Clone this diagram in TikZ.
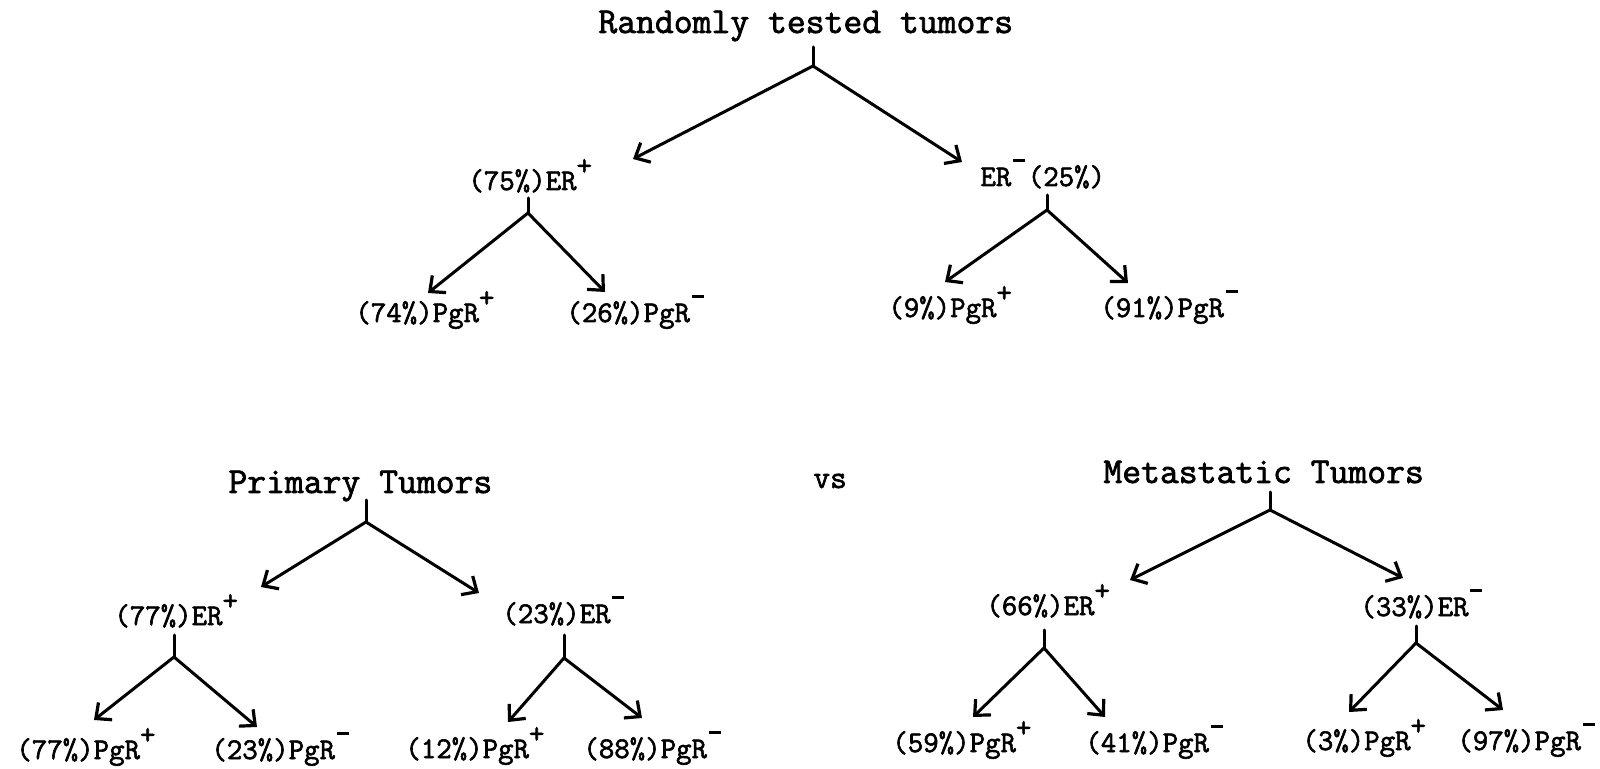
\documentclass[tikz,border=0pt]{standalone}
\usepackage{fontspec}
\setmonofont{Latin Modern Mono}[FakeBold=2]
\usetikzlibrary{arrows.meta}
\newcommand{\Rplus}{\makebox[0.55em][l]{\raisebox{0.5em}{+}}}
\newcommand{\Rminus}{\makebox[0.55em][l]{\hspace{0.06em}\rule[0.8em]{0.4em}{0.1em}}}
\tikzset{
  lab/.style={anchor=base west, inner sep=0pt, font=\ttfamily\fontsize{15}{16}\selectfont},
  ttl/.style={anchor=base west, inner sep=0pt, font=\ttfamily\fontsize{18.3}{20}\selectfont},
  vsl/.style={anchor=base west, inner sep=0pt, font=\ttfamily\fontsize{16.2}{18}\selectfont},
  ln/.style={line width=1.5pt, line cap=round, line join=round},
  arr/.style={ln, -{Straight Barb[length=6pt,width=11pt,line width=1.6pt]}}
}
\begin{document}
\begin{tikzpicture}[x=0.5pt,y=-0.5pt]
\useasboundingbox (0,0) rectangle (1600,769);

% ---------- top tree ----------
\node[ttl] (t0) at (598,33) {Randomly tested tumors};
\coordinate (t0s) at (813,47); \coordinate (t0b) at (813,66);
\coordinate (t0l) at (633,159); \coordinate (t0r) at (962,162);
\draw[ln] (t0s) -- (t0b);
\draw[arr] (t0b) -- (t0l);
\draw[arr] (t0b) -- (t0r);

\node[lab] (tA) at (468,190) {(75\%)ER\Rplus};
\coordinate (tAs) at (528,198); \coordinate (tAb) at (528,213);
\coordinate (tAl) at (428,293); \coordinate (tAr) at (605,292);
\draw[ln] (tAs) -- (tAb);
\draw[arr] (tAb) -- (tAl);
\draw[arr] (tAb) -- (tAr);
\node[lab] (tA1) at (355,322) {(74\%)PgR\Rplus};
\node[lab] (tA2) at (566,322) {(26\%)PgR\Rminus};

\node[lab] (tB) at (980,186) {ER\Rminus(25\%)};
\coordinate (tBs) at (1047,195); \coordinate (tBb) at (1047,210);
\coordinate (tBl) at (945,282); \coordinate (tBr) at (1128,283);
\draw[ln] (tBs) -- (tBb);
\draw[arr] (tBb) -- (tBl);
\draw[arr] (tBb) -- (tBr);
\node[lab] (tB1) at (888,317) {(9\%)PgR\Rplus};
\node[lab] (tB2) at (1100,317) {(91\%)PgR\Rminus};

% ---------- primary tree ----------
\node[ttl] (p0) at (228,493) {Primary Tumors};
\coordinate (p0s) at (366,500); \coordinate (p0b) at (366,522);
\coordinate (p0l) at (261,587); \coordinate (p0r) at (479,593);
\draw[ln] (p0s) -- (p0b);
\draw[arr] (p0b) -- (p0l);
\draw[arr] (p0b) -- (p0r);

\node[lab] (pA) at (114,625) {(77\%)ER\Rplus};
\coordinate (pAs) at (174,635); \coordinate (pAb) at (174,657);
\coordinate (pAl) at (94,720); \coordinate (pAr) at (257,727);
\draw[ln] (pAs) -- (pAb);
\draw[arr] (pAb) -- (pAl);
\draw[arr] (pAb) -- (pAr);
\node[lab] (pA1) at (16,759) {(77\%)PgR\Rplus};
\node[lab] (pA2) at (211,759) {(23\%)PgR\Rminus};

\node[lab] (pB) at (502,623) {(23\%)ER\Rminus};
\coordinate (pBs) at (564,635); \coordinate (pBb) at (564,658);
\coordinate (pBl) at (508,722); \coordinate (pBr) at (642,718);
\draw[ln] (pBs) -- (pBb);
\draw[arr] (pBb) -- (pBl);
\draw[arr] (pBb) -- (pBr);
\node[lab] (pB1) at (405,758) {(12\%)PgR\Rplus};
\node[lab] (pB2) at (583,758) {(88\%)PgR\Rminus};

% ---------- vs ----------
\node[vsl] (vs) at (813,488) {vs};

% ---------- metastatic tree ----------
\node[ttl] (m0) at (1103,483) {Metastatic Tumors};
\coordinate (m0s) at (1270,492); \coordinate (m0b) at (1270,510);
\coordinate (m0l) at (1130,580); \coordinate (m0r) at (1403,578);
\draw[ln] (m0s) -- (m0b);
\draw[arr] (m0b) -- (m0l);
\draw[arr] (m0b) -- (m0r);

\node[lab] (mA) at (986,615) {(66\%)ER\Rplus};
\coordinate (mAs) at (1044,630); \coordinate (mAb) at (1044,648);
\coordinate (mAl) at (973,717); \coordinate (mAr) at (1105,717);
\draw[ln] (mAs) -- (mAb);
\draw[arr] (mAb) -- (mAl);
\draw[arr] (mAb) -- (mAr);
\node[lab] (mA1) at (892,752) {(59\%)PgR\Rplus};
\node[lab] (mA2) at (1085,752) {(41\%)PgR\Rminus};

\node[lab] (mB) at (1360,616) {(33\%)ER\Rminus};
\coordinate (mBs) at (1416,626); \coordinate (mBb) at (1416,643);
\coordinate (mBl) at (1349,712); \coordinate (mBr) at (1503,710);
\draw[ln] (mBs) -- (mBb);
\draw[arr] (mBb) -- (mBl);
\draw[arr] (mBb) -- (mBr);
\node[lab] (mB1) at (1302,750) {(3\%)PgR\Rplus};
\node[lab] (mB2) at (1457,750) {(97\%)PgR\Rminus};
\end{tikzpicture}
\end{document}
